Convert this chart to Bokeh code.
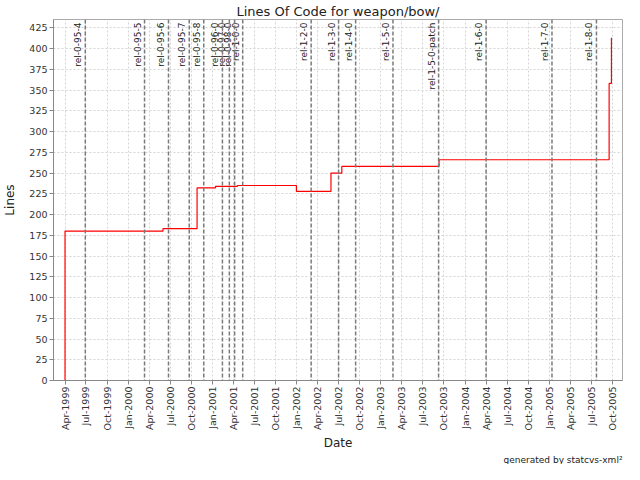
import numpy as np
from math import pi
from bokeh.plotting import figure
from bokeh.models import Range1d, FixedTicker, DatetimeTickFormatter, Span, Title, ColumnDataSource
from bokeh.core.properties import value
from bokeh.embed import file_html
from bokeh.resources import INLINE

# ---- data ----
loc_dates = ["1999-04-01", "1999-04-01", "2000-05-30", "2000-10-25", "2001-01-13",
             "2001-04-18", "2001-12-30", "2002-05-29", "2002-07-15", "2003-09-10",
             "2005-09-17", "2005-09-27"]
loc_values = [0, 180, 183, 232, 234, 235, 228, 250, 258, 266, 358, 413]

release_names = ["rel-0-95-4", "rel-0-95-5", "rel-0-95-6", "rel-0-95-7", "rel-0-95-8",
                 "rel-0-96-0", "rel-0-97-0", "rel-0-98-0", "rel-1-0-0", "rel-1-2-0",
                 "rel-1-3-0", "rel-1-4-0", "rel-1-5-0", "rel-1-5-0-patch", "rel-1-6-0",
                 "rel-1-7-0", "rel-1-8-0"]
release_dates = ["1999-06-28", "2000-03-11", "2000-06-23", "2000-09-21", "2000-11-23",
                 "2001-02-12", "2001-03-14", "2001-04-06", "2001-05-11", "2002-03-04",
                 "2002-07-01", "2002-09-13", "2003-02-22", "2003-09-08", "2004-04-01",
                 "2005-01-12", "2005-07-24"]

x_tick_dates = ["1999-04-01", "1999-07-01", "1999-10-01", "2000-01-01", "2000-04-01",
                "2000-07-01", "2000-10-01", "2001-01-01", "2001-04-01", "2001-07-01",
                "2001-10-01", "2002-01-01", "2002-04-01", "2002-07-01", "2002-10-01",
                "2003-01-01", "2003-04-01", "2003-07-01", "2003-10-01", "2004-01-01",
                "2004-04-01", "2004-07-01", "2004-10-01", "2005-01-01", "2005-04-01",
                "2005-07-01", "2005-10-01"]
y_ticks = list(range(0, 426, 25))


def ms(d):
    return int(np.datetime64(d, "ms").astype("int64"))


FONT = "DejaVu Sans"

p = figure(width=624, height=464, x_axis_type="datetime", output_backend="svg",
           toolbar_location=None,
           x_range=Range1d(ms("1999-02-10"), ms("2005-11-14")),
           y_range=Range1d(0, 435),
           min_border_left=47, min_border_right=2, min_border_top=0, min_border_bottom=0)

p.title.text = "Lines Of Code for weapon/bow/"
p.title.align = "center"
p.title.text_font = FONT
p.title.text_font_size = "13px"
p.title.text_font_style = "normal"
p.title.text_color = "#222222"
p.title.standoff = 2

p.background_fill_color = "white"
p.border_fill_color = "white"
p.outline_line_color = "#aaaaaa"

# axes
p.xaxis.ticker = FixedTicker(ticks=[ms(d) for d in x_tick_dates])
p.xaxis.formatter = DatetimeTickFormatter(months="%b-%Y", days="%b-%Y", years="%b-%Y",
                                          hours="%b-%Y")
p.xaxis.major_label_orientation = pi / 2
p.yaxis.ticker = FixedTicker(ticks=y_ticks)
for ax in (p.xaxis, p.yaxis):
    ax.major_label_text_font = FONT
    ax.major_label_text_font_size = "9.5px"
    ax.major_label_text_color = "#333333"
    ax.axis_label_text_font = FONT
    ax.axis_label_text_font_size = "12px"
    ax.axis_label_text_font_style = "normal"
    ax.axis_label_text_color = "#222222"
    ax.axis_line_color = "#888888"
    ax.major_tick_line_color = "#888888"
    ax.major_tick_out = 4
    ax.major_tick_in = 0
    ax.minor_tick_out = 0
    ax.minor_tick_in = 0
    ax.major_label_standoff = 2
p.xaxis.axis_label = "Date"
p.yaxis.axis_label = "Lines"
p.xaxis.axis_label_standoff = 2
p.yaxis.axis_label_standoff = 9

for g in (p.xgrid, p.ygrid):
    g.grid_line_color = "#d4d4d4"
    g.grid_line_dash = "2 2"
    g.grid_line_width = 1

# release markers
for d in release_dates:
    p.add_layout(Span(location=ms(d), dimension="height", line_color="#7a7a7a",
                      line_dash="4 2", line_width=1.5))

rel_src = ColumnDataSource(dict(x=[ms(d) for d in release_dates],
                                y=[435] * len(release_dates),
                                t=release_names))
p.text(x="x", y="y", text="t", source=rel_src, angle=pi / 2, text_align="right",
       text_baseline="bottom", x_offset=-2, y_offset=3,
       text_font=value(FONT), text_font_size="9px", text_color="#222222")

# lines of code step line
loc_src = ColumnDataSource(dict(x=[ms(d) for d in loc_dates], y=loc_values))
p.step(x="x", y="y", source=loc_src, mode="after", line_color="red", line_width=1.2)

# footer
foot = Title(text="generated by statcvs-xml\u00b2", align="right", text_font=FONT,
             text_font_size="9px", text_font_style="normal", text_color="#222222",
             standoff=0)
p.add_layout(foot, "below")

open("out.html", "w").write(file_html(p, INLINE))
